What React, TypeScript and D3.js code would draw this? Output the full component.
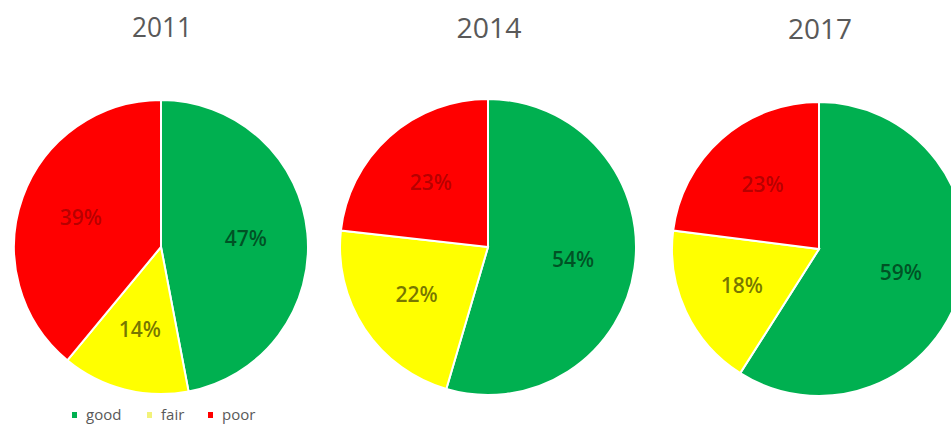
import React from "react";
import * as d3 from "d3";

const years = ["2011", "2014", "2017"];
const categories = ["good", "fair", "poor"];
const good = [47, 54, 59];
const fair = [14, 22, 18];
const poor = [39, 23, 23];
const colors = ["#00B050", "#FFFF00", "#FF0000"];

const W = 951;
const H = 424;

export default function App() {
  const centers = [
    { cx: 161, cy: 247, r: 147 },
    { cx: 488, cy: 247, r: 148 },
    { cx: 819, cy: 249, r: 147 },
  ];
  const titleX = [162, 489, 820];
  const titleY = [37, 38, 39];
  const titleW = [60, 65, 64];
  const labelOpacity = [0.55, 0.55, 0.3];
  const pie = d3.pie<number>().sort(null).value((d) => d);
  return (
    <svg width={W} height={H} style={{ position: "absolute", left: 0, top: 0, background: "#fff" }}>
      {years.map((y, i) => {
        const { cx, cy, r } = centers[i];
        const vals = [good[i], fair[i], poor[i]];
        const arcs = pie(vals);
        const arc = d3.arc<d3.PieArcDatum<number>>().innerRadius(0).outerRadius(r);
        const lab = d3.arc<d3.PieArcDatum<number>>().innerRadius(r * 0.58).outerRadius(r * 0.58);
        return (
          <g key={y}>
            <text x={titleX[i]} y={titleY[i]} textAnchor="middle" fontFamily="Open Sans, sans-serif" fontSize={28}
              textLength={titleW[i]} lengthAdjust="spacingAndGlyphs" fill="#595959">
              {y}
            </text>
            <g transform={`translate(${cx},${cy})`}>
              {arcs.map((a, j) => (
                <path key={j} d={arc(a) || ""} fill={colors[j]} stroke="#fff" strokeWidth={2} />
              ))}
              {arcs.map((a, j) => {
                const [lx, ly] = lab.centroid(a);
                return (
                  <text key={"l" + j} x={lx} y={ly} dy="0.35em" textAnchor="middle" fontFamily="Open Sans, sans-serif"
                    fontSize={21} fontWeight={600} fill="#000" fillOpacity={labelOpacity[j]}>
                    {vals[j]}%
                  </text>
                );
              })}
            </g>
          </g>
        );
      })}
      <g fontFamily="Open Sans, sans-serif" fontSize={15} fill="#595959">
        {categories.map((c, j) => {
          const x = [72, 147, 208][j];
          return (
            <g key={c}>
              <rect x={x} y={412} width={5} height={6} fill={colors[j] === "#FFFF00" ? "#f2f27a" : colors[j]} />
              <text x={x + 14} y={420}>{c}</text>
            </g>
          );
        })}
      </g>
    </svg>
  );
}
